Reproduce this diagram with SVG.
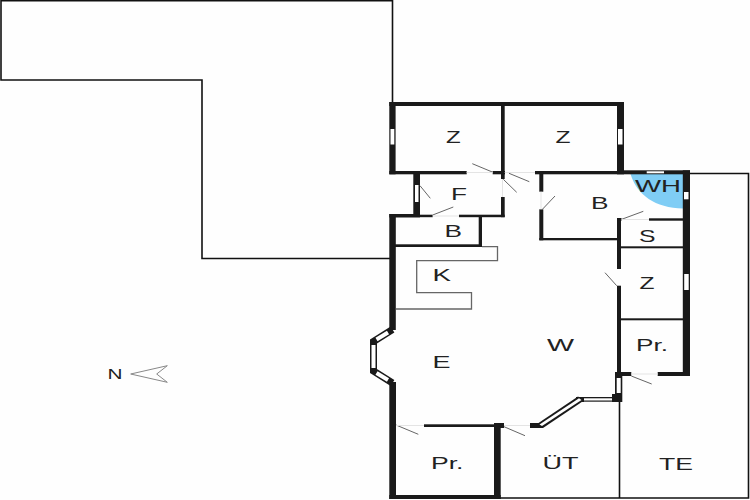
<svg xmlns="http://www.w3.org/2000/svg" width="750" height="500" viewBox="0 0 750 500">
<style>
.w{fill:#1a1a1a}
.o{fill:none;stroke:#111;stroke-width:1.6}
.k{fill:none;stroke:#666;stroke-width:1.3}
.d{fill:none;stroke:#666;stroke-width:1}
.f{fill:none;stroke:#e4e4e4;stroke-width:1}
.t{font-family:"Liberation Sans",Arial,sans-serif;font-size:17px;fill:#222}
.b{fill:#fff;stroke:none}
.bo{fill:none;stroke:#1a1a1a;stroke-width:7}
.bi{fill:none;stroke:#fff;stroke-width:4}
</style>
<rect width="750" height="500" fill="#fefefe"/>
<g id="outlines">
<path class="o" d="M392.5,102V0.8H1V80H202V258.5H390"/>
<path class="o" d="M690,173.5H748.5V498H500"/>
<path class="o" d="M619.5,402V498"/>
</g>
<path id="wet-room" fill="#7fcdf5" d="M630.5,174H683V208.5C655,208 637,195 630.5,174Z"/>
<g id="kitchen">
<path class="k" d="M482,246.7H497.5V260.7H416.7V292.7H471.5V309H396"/>
</g>
<g id="walls">
<rect class="w" x="389.3" y="102" width="234.7" height="4"/>
<rect class="w" x="389.3" y="102" width="6.3" height="72.3"/>
<rect class="w" x="617" y="102" width="7" height="72.3"/>
<rect class="w" x="501" y="102" width="3.7" height="77"/>
<rect class="w" x="389.3" y="171" width="77.4" height="3.3"/>
<rect class="w" x="492.7" y="171" width="12.3" height="3.3"/>
<rect class="w" x="535" y="171" width="89" height="3.3"/>
<rect class="w" x="413.3" y="171" width="6.7" height="46"/>
<rect class="w" x="389.3" y="214" width="30.7" height="3.5"/>
<rect class="w" x="420" y="214.7" width="12.7" height="2.5"/>
<rect class="w" x="459" y="214.7" width="45.7" height="2.5"/>
<rect class="w" x="501" y="197" width="3.7" height="20.2"/>
<rect class="w" x="478.7" y="217" width="3.3" height="30"/>
<rect class="w" x="395" y="244.3" width="87" height="2.7"/>
<rect class="w" x="389.3" y="214" width="6.5" height="116"/>
<rect class="w" x="539.3" y="171" width="4" height="20.7"/>
<rect class="w" x="539.3" y="209.3" width="4" height="31"/>
<rect class="w" x="539.3" y="238" width="81" height="2.3"/>
<rect class="w" x="617" y="218" width="4" height="51"/>
<rect class="w" x="617" y="285.7" width="4" height="88"/>
<rect class="w" x="624" y="170.3" width="66" height="4"/>
<rect class="w" x="682.8" y="170.3" width="7.2" height="205.7"/>
<rect class="w" x="649" y="218.3" width="34" height="2.4"/>
<rect class="w" x="617" y="218" width="4.5" height="2.7"/>
<rect class="w" x="621" y="246.3" width="62" height="2"/>
<rect class="w" x="621" y="318.3" width="62" height="2"/>
<rect class="w" x="617" y="372" width="14.3" height="4"/>
<rect class="w" x="657.7" y="372" width="32.3" height="4"/>
<rect class="w" x="615" y="372" width="7.3" height="30"/>
<rect class="w" x="612" y="394" width="9.7" height="8"/>
<rect class="w" x="576" y="397" width="8" height="5"/>
<rect class="w" x="530" y="423" width="13" height="5"/>
<polygon class="w" points="578,396.5 584,400.5 543,428 537,424"/>
<rect class="w" x="582" y="397" width="32" height="4.7"/>
<rect class="w" x="424" y="424.3" width="72" height="2.7"/>
<rect class="w" x="494" y="423" width="10" height="5"/>
<rect class="w" x="494" y="423" width="6.7" height="76"/>
<rect class="w" x="389.3" y="382" width="6.7" height="117"/>
<rect class="w" x="389.3" y="495" width="111.4" height="4"/>
<path class="bo" d="M392.5,329.5L373.5,341.5V371L392.5,383"/>
</g>
<g id="windows">
<rect class="b" x="390.5" y="129" width="3.8" height="15.5"/>
<rect class="b" x="618" y="129" width="4.5" height="15.5"/>
<rect class="b" x="415" y="185" width="3.5" height="17"/>
<rect class="b" x="646.7" y="171.3" width="17.3" height="2"/>
<rect class="b" x="684" y="192" width="4.5" height="7.3"/>
<rect class="b" x="684.2" y="274" width="4.5" height="16"/>
<rect class="b" x="616.7" y="378" width="4" height="15"/>
<rect class="b" x="584" y="398.3" width="28" height="2.2"/>
<polygon class="b" points="579,398.3 581.5,400 542,426 539.5,424.5"/>
<path class="bi" d="M388,332.5L376.5,339.5M373.5,345V368M376.5,373L388,380"/>
</g>
<g id="doors">
<path class="d" d="M472.3,163.7L493,172.3M509,173.3L529.3,181.7M503.3,179.3L516.7,192.3M420,185.7L430.3,198.3M432.7,215L453.3,207M542.7,209L555,196M621.7,219.3L643.3,211.3M616.7,285.7L605,272.7M631.3,376L651.7,384M396,425L418.3,434.3M504,426.7L525,435.7"/>
<path class="f" d="M466.7,172.5H492.7M432.7,216H459M621.7,219.5H649M631.3,374H657.7M396,425.5H424M504,425.5H530M502.5,179V197M541,191.7V209.3M504.7,172.5H535"/>
</g>
<g id="labels">
<text class="t" x="446" y="142.7" textLength="14.7" lengthAdjust="spacingAndGlyphs">Z</text>
<text class="t" x="555.5" y="142.7" textLength="15" lengthAdjust="spacingAndGlyphs">Z</text>
<text class="t" x="451" y="200" textLength="16" lengthAdjust="spacingAndGlyphs">F</text>
<text class="t" x="444.5" y="237" textLength="17.5" lengthAdjust="spacingAndGlyphs">B</text>
<text class="t" x="591" y="208.7" textLength="17.5" lengthAdjust="spacingAndGlyphs">B</text>
<text class="t" x="635" y="191.7" textLength="46" lengthAdjust="spacingAndGlyphs">WH</text>
<text class="t" x="639" y="242.3" textLength="16.5" lengthAdjust="spacingAndGlyphs">S</text>
<text class="t" x="639.5" y="289.3" textLength="15" lengthAdjust="spacingAndGlyphs">Z</text>
<text class="t" x="636" y="350.7" textLength="32" lengthAdjust="spacingAndGlyphs">Pr.</text>
<text class="t" x="432.5" y="281.3" textLength="18.5" lengthAdjust="spacingAndGlyphs">K</text>
<text class="t" x="432.5" y="368" textLength="18" lengthAdjust="spacingAndGlyphs">E</text>
<text class="t" x="547" y="351" textLength="27" lengthAdjust="spacingAndGlyphs">W</text>
<text class="t" x="431" y="469.3" textLength="32.5" lengthAdjust="spacingAndGlyphs">Pr.</text>
<text class="t" x="542.5" y="469.3" textLength="36" lengthAdjust="spacingAndGlyphs">ÜT</text>
<text class="t" x="659" y="470" textLength="34" lengthAdjust="spacingAndGlyphs">TE</text>
<text class="t" x="107.5" y="379.3" textLength="15" lengthAdjust="spacingAndGlyphs" style="font-size:14px">N</text>
</g>
<polygon id="north" points="130.7,374 167.3,365.7 156.7,374 167.3,382.3" fill="none" stroke="#888" stroke-width="1"/>
</svg>
